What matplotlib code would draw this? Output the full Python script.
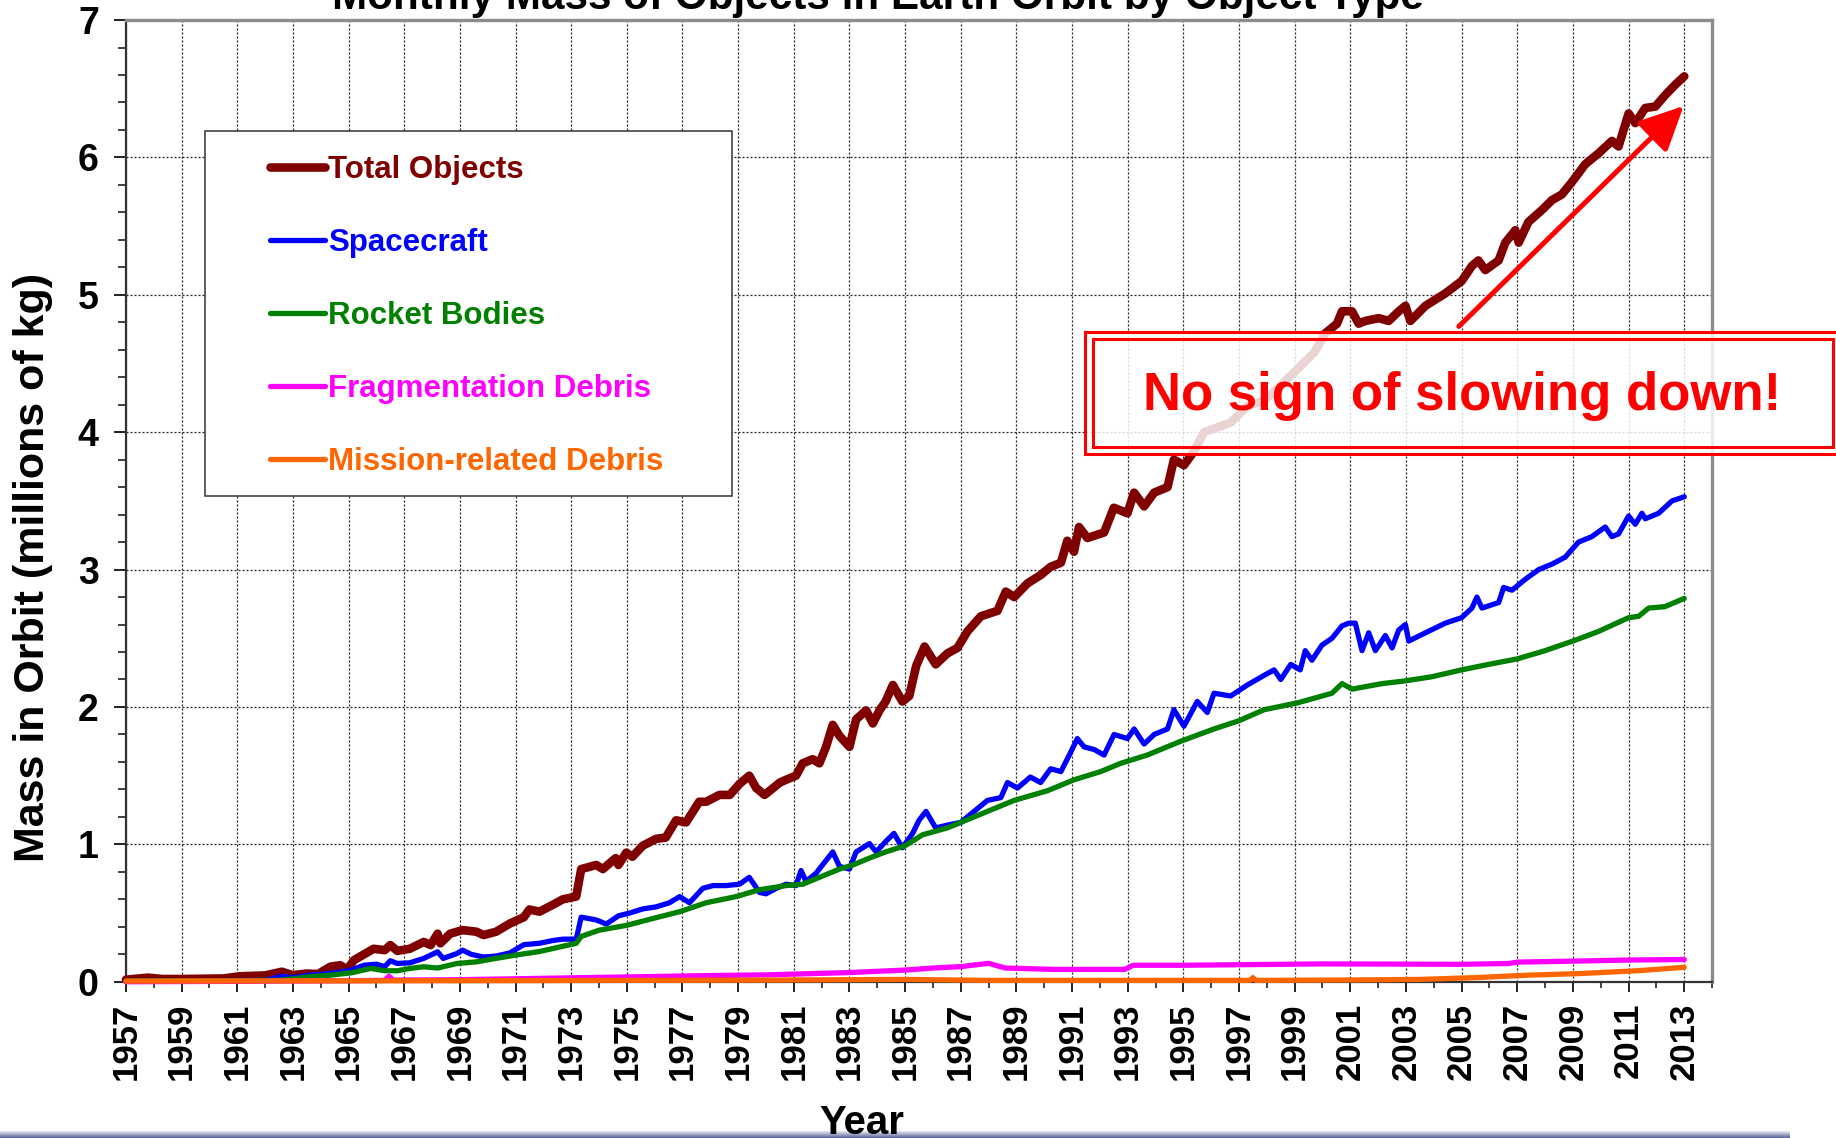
import matplotlib
matplotlib.use("Agg")
import matplotlib.pyplot as plt
from matplotlib.patches import Rectangle
from matplotlib.colors import LinearSegmentedColormap
from matplotlib.ticker import MultipleLocator
import numpy as np

plt.rcParams.update({
    "font.family": ["Liberation Sans", "DejaVu Sans"],
    "font.weight": "bold",
    "axes.labelweight": "bold",
})

# ---------------------------------------------------------------------
# Data (year, millions of kg)
# ---------------------------------------------------------------------
total_years = [1957.0, 1957.8, 1958.3, 1959.0, 1960.5, 1961.1, 1962.0, 1962.6, 1963.0, 1963.5,
               1963.9, 1964.35, 1964.7, 1964.95, 1965.2, 1965.9, 1966.3, 1966.5, 1966.75, 1967.2,
               1967.7, 1967.95, 1968.2, 1968.3, 1968.65, 1969.1, 1969.6, 1969.85, 1970.3, 1970.8,
               1971.3, 1971.5, 1971.86, 1972.34, 1972.7, 1973.18, 1973.36, 1973.9, 1974.14, 1974.6,
               1974.7, 1974.98, 1975.2, 1975.57, 1976.05, 1976.4, 1976.77, 1977.13, 1977.6, 1977.85,
               1978.33, 1978.7, 1979.05, 1979.4, 1979.65, 1979.95, 1980.5, 1980.72, 1981.08, 1981.32,
               1981.68, 1981.92, 1982.16, 1982.4, 1982.64, 1983.0, 1983.24, 1983.6, 1983.84, 1984.08,
               1984.3, 1984.56, 1984.9, 1985.15, 1985.4, 1985.7, 1986.1, 1986.52, 1986.88, 1987.24,
               1987.72, 1988.32, 1988.62, 1988.92, 1989.4, 1989.87, 1990.23, 1990.6, 1990.83, 1991.07,
               1991.25, 1991.55, 1992.15, 1992.5, 1992.99, 1993.23, 1993.59, 1993.95, 1994.43, 1994.66,
               1995.02, 1995.38, 1995.74, 1996.7, 1997.3, 1997.9, 1998.5, 1999.1, 1999.7, 2000.1,
               2000.52, 2000.7, 2001.06, 2001.3, 2001.54, 2002.02, 2002.38, 2002.74, 2002.98, 2003.16,
               2003.7, 2004.41, 2005.0, 2005.37, 2005.6, 2005.85, 2006.33, 2006.57, 2006.93, 2007.05,
               2007.4, 2007.9, 2008.25, 2008.6, 2008.96, 2009.44, 2009.92, 2010.4, 2010.64, 2011.0,
               2011.24, 2011.6, 2011.96, 2012.3, 2012.68, 2013.0]
total_mass = [0.015, 0.03, 0.02, 0.02, 0.024, 0.04, 0.046, 0.073, 0.048, 0.06,
              0.056, 0.11, 0.12, 0.09, 0.158, 0.24, 0.23, 0.267, 0.225, 0.24,
              0.29, 0.267, 0.35, 0.28, 0.35, 0.376, 0.364, 0.34, 0.364, 0.424,
              0.47, 0.526, 0.51, 0.56, 0.6, 0.62, 0.82, 0.85, 0.82, 0.9,
              0.85, 0.94, 0.91, 0.99, 1.04, 1.05, 1.175, 1.16, 1.31, 1.31,
              1.36, 1.36, 1.44, 1.5, 1.41, 1.36, 1.45, 1.47, 1.5, 1.59,
              1.62, 1.59, 1.71, 1.87, 1.79, 1.71, 1.91, 1.975, 1.88, 1.975,
              2.04, 2.16, 2.04, 2.08, 2.3, 2.44, 2.31, 2.39, 2.43, 2.55,
              2.66, 2.70, 2.84, 2.80, 2.90, 2.96, 3.02, 3.05, 3.21, 3.13,
              3.31, 3.23, 3.27, 3.45, 3.41, 3.56, 3.46, 3.56, 3.60, 3.80,
              3.76, 3.86, 4.0, 4.07, 4.19, 4.23, 4.34, 4.46, 4.58, 4.72,
              4.79, 4.88, 4.88, 4.79, 4.81, 4.83, 4.81, 4.88, 4.92, 4.81,
              4.92, 5.01, 5.10, 5.21, 5.25, 5.18, 5.25, 5.38, 5.47, 5.38,
              5.53, 5.62, 5.69, 5.73, 5.82, 5.95, 6.03, 6.12, 6.08, 6.32,
              6.25, 6.36, 6.37, 6.45, 6.53, 6.59]

spacecraft_years = [1957.0, 1962.0, 1962.6, 1963.0, 1963.6, 1964.35, 1965.1, 1965.55, 1966.0, 1966.3,
                    1966.5, 1966.75, 1967.2, 1967.7, 1968.2, 1968.4, 1968.9, 1969.1, 1969.4, 1969.85,
                    1970.3, 1970.8, 1971.3, 1971.86, 1972.34, 1972.7, 1973.18, 1973.36, 1973.9, 1974.26,
                    1974.7, 1975.1, 1975.57, 1976.05, 1976.53, 1976.9, 1977.25, 1977.73, 1978.1, 1978.57,
                    1979.05, 1979.4, 1979.77, 1980.0, 1980.37, 1980.72, 1981.08, 1981.26, 1981.44, 1981.8,
                    1982.4, 1982.64, 1983.0, 1983.24, 1983.72, 1983.96, 1984.3, 1984.6, 1984.9, 1985.27,
                    1985.5, 1985.75, 1986.1, 1986.52, 1987.0, 1987.48, 1987.96, 1988.44, 1988.68, 1989.04,
                    1989.5, 1989.87, 1990.23, 1990.6, 1990.9, 1991.19, 1991.43, 1991.8, 1992.15, 1992.51,
                    1992.99, 1993.23, 1993.59, 1993.95, 1994.43, 1994.66, 1995.02, 1995.5, 1995.86, 1996.1,
                    1996.7, 1997.3, 1997.9, 1998.26, 1998.5, 1998.86, 1999.2, 1999.38, 1999.62, 1999.98,
                    2000.34, 2000.7, 2000.94, 2001.18, 2001.42, 2001.66, 2001.9, 2002.26, 2002.5, 2002.74,
                    2002.98, 2003.1, 2003.7, 2004.41, 2005.0, 2005.37, 2005.55, 2005.73, 2006.33, 2006.51,
                    2006.81, 2007.29, 2007.77, 2008.25, 2008.72, 2009.2, 2009.68, 2010.16, 2010.4, 2010.64,
                    2011.0, 2011.24, 2011.48, 2011.6, 2012.08, 2012.56, 2013.0]
spacecraft_mass = [0.005, 0.01, 0.04, 0.03, 0.048, 0.06, 0.085, 0.12, 0.128, 0.11,
                   0.153, 0.133, 0.138, 0.17, 0.218, 0.17, 0.206, 0.23, 0.2, 0.18,
                   0.187, 0.21, 0.27, 0.28, 0.30, 0.31, 0.31, 0.47, 0.45, 0.42,
                   0.48, 0.5, 0.53, 0.545, 0.575, 0.62, 0.575, 0.68, 0.7, 0.7,
                   0.71, 0.76, 0.65, 0.64, 0.68, 0.71, 0.7, 0.81, 0.73, 0.79,
                   0.945, 0.84, 0.82, 0.945, 1.006, 0.945, 1.02, 1.08, 0.975, 1.08,
                   1.175, 1.24, 1.12, 1.14, 1.16, 1.24, 1.32, 1.34, 1.45, 1.41,
                   1.49, 1.45, 1.55, 1.53, 1.65, 1.77, 1.71, 1.69, 1.65, 1.80,
                   1.77, 1.84, 1.73, 1.80, 1.84, 1.98, 1.86, 2.04, 1.96, 2.10,
                   2.08, 2.16, 2.23, 2.27, 2.20, 2.31, 2.27, 2.41, 2.34, 2.45,
                   2.50, 2.59, 2.61, 2.61, 2.41, 2.54, 2.41, 2.52, 2.43, 2.56,
                   2.60, 2.48, 2.54, 2.61, 2.65, 2.72, 2.80, 2.72, 2.76, 2.87,
                   2.85, 2.93, 3.0, 3.04, 3.09, 3.20, 3.24, 3.31, 3.24, 3.26,
                   3.39, 3.33, 3.41, 3.37, 3.41, 3.50, 3.53]

rocket_years = [1957.0, 1962.5, 1963.6, 1964.35, 1965.1, 1965.8, 1966.3, 1966.75, 1967.2, 1967.7,
                1968.2, 1968.9, 1969.6, 1970.3, 1971.0, 1971.86, 1973.18, 1973.36, 1974.0, 1974.98,
                1975.93, 1976.9, 1977.85, 1978.93, 1979.77, 1980.72, 1981.32, 1981.92, 1982.64, 1983.12,
                1983.72, 1984.3, 1985.0, 1985.63, 1986.52, 1987.24, 1987.96, 1988.92, 1990.11, 1991.07,
                1992.03, 1992.75, 1993.7, 1994.9, 1996.1, 1997.0, 1997.9, 1999.1, 2000.34, 2000.7,
                2001.06, 2002.14, 2002.98, 2003.93, 2005.0, 2005.97, 2007.0, 2008.0, 2009.0, 2009.92,
                2011.0, 2011.36, 2011.72, 2012.3, 2013.0]
rocket_mass = [0.005, 0.01, 0.036, 0.048, 0.065, 0.097, 0.08, 0.08, 0.097, 0.109,
               0.1, 0.133, 0.145, 0.17, 0.194, 0.22, 0.28, 0.33, 0.375, 0.41,
               0.46, 0.51, 0.575, 0.62, 0.67, 0.7, 0.71, 0.76, 0.82, 0.85,
               0.9, 0.945, 0.99, 1.07, 1.12, 1.18, 1.24, 1.32, 1.39, 1.47,
               1.53, 1.59, 1.65, 1.75, 1.84, 1.90, 1.98, 2.03, 2.10, 2.17,
               2.13, 2.17, 2.19, 2.22, 2.27, 2.31, 2.35, 2.41, 2.48, 2.55,
               2.65, 2.66, 2.72, 2.73, 2.79]

frag_years = [1957.0, 1961.0, 1965.0, 1966.3, 1966.45, 1966.6, 1969.0, 1972.0, 1975.0, 1978.0,
              1980.0, 1983.0, 1985.0, 1986.0, 1987.0, 1988.0, 1988.6, 1990.35, 1992.9, 1993.2,
              1995.0, 2000.0, 2005.0, 2006.7, 2007.0, 2009.0, 2011.0, 2013.0]
frag_mass = [0.0, 0.003, 0.008, 0.01, 0.04, 0.012, 0.015, 0.025, 0.035, 0.045,
             0.05, 0.067, 0.085, 0.10, 0.11, 0.134, 0.10, 0.09, 0.09, 0.12,
             0.12, 0.13, 0.127, 0.133, 0.143, 0.15, 0.158, 0.162]

mission_years = [1957.0, 1970.0, 1980.0, 1985.0, 1988.0, 1996.0, 1997.4, 1997.5, 1997.6, 2001.0,
                 2003.5, 2005.5, 2007.4, 2009.3, 2011.3, 2013.0]
mission_mass = [0.005, 0.008, 0.012, 0.017, 0.01, 0.01, 0.01, 0.03, 0.01, 0.013,
                0.017, 0.03, 0.048, 0.06, 0.08, 0.105]

series = [
    ("Total Objects", total_years, total_mass, "#800000", 6.2),
    ("Spacecraft", spacecraft_years, spacecraft_mass, "#0000FF", 3.8),
    ("Rocket Bodies", rocket_years, rocket_mass, "#008000", 3.8),
    ("Fragmentation Debris", frag_years, frag_mass, "#FF00FF", 3.8),
    ("Mission-related Debris", mission_years, mission_mass, "#FF6600", 3.8),
]

year_ticks = list(range(1957, 2014, 2))

# ---------------------------------------------------------------------
fig = plt.figure(figsize=(18.36, 11.38), dpi=100)
ax = fig.add_axes([0.0686, 0.1373, 0.8639, 0.8451])

for label, xs, ys, color, lw in series:
    ax.plot(xs, ys, color=color, lw=lw, label=label, clip_on=False,
            solid_joinstyle="round", solid_capstyle="round", zorder=4)

ax.set_xlim(1957, 2014)
ax.set_ylim(0, 7)
ax.set_xticks(year_ticks)
ax.set_xticklabels([str(y) for y in year_ticks], rotation=90)
ax.xaxis.set_minor_locator(MultipleLocator(1))
ax.yaxis.set_major_locator(MultipleLocator(1))
ax.yaxis.set_minor_locator(MultipleLocator(0.2))

ax.tick_params(axis="x", which="major", length=7, width=1.4, labelsize=25, pad=8,
               color="#222222")
ax.tick_params(axis="x", which="minor", length=4.5, width=1.2, color="#222222")
ax.tick_params(axis="y", which="major", length=8.5, width=1.4, labelsize=27, pad=11,
               color="#222222")
ax.tick_params(axis="y", which="minor", length=6, width=1.2, color="#222222")
for t in ax.get_xticklabels() + ax.get_yticklabels():
    t.set_fontweight("bold")

ax.set_axisbelow(True)
ax.grid(which="major", color="#222222", linestyle=(0, (1.6, 1.6)), linewidth=0.9)

for side in ["left", "bottom"]:
    ax.spines[side].set_color("#333333")
    ax.spines[side].set_linewidth(1.6)
for side in ["top", "right"]:
    ax.spines[side].set_color("#8c8c8c")
    ax.spines[side].set_linewidth(2.4)

# legend with its own box
ax.add_patch(Rectangle((0.050, 0.505), 0.332, 0.380, transform=ax.transAxes,
                       facecolor="white", edgecolor="#333333", lw=1.1, zorder=5))
leg = ax.legend(loc="upper left", bbox_to_anchor=(0.0908, 0.860), frameon=False,
                fontsize=22.5, handlelength=1.75, handletextpad=0.1,
                labelspacing=1.38, borderpad=0, borderaxespad=0,
                labelcolor="linecolor")
leg.set_zorder(6)
for h in leg.get_lines():
    h.set_solid_capstyle("round")

# arrow
ax.annotate("", xy=(2012.98, 6.375), xytext=(2004.9, 4.77),
            arrowprops=dict(arrowstyle="-|>,head_length=2.7,head_width=1.3",
                            mutation_scale=10, lw=3.6, color="#FF0000",
                            shrinkA=0, shrinkB=0),
            zorder=7)

# figure-level texts
fig.text(0.4782, 0.992, "Monthly Mass of Objects in Earth Orbit by Object Type",
         ha="center", va="baseline", fontsize=30.4, fontweight="bold")
fig.text(0.4695, 0.0035, "Year", ha="center", va="baseline",
         fontsize=29, fontweight="bold")
fig.text(0.018, 0.501, "Mass in Orbit (millions of kg)", rotation=90,
         ha="center", va="center", fontsize=31, fontweight="bold")

# callout box
fig.patches.append(Rectangle((0.591, 0.601), 0.42, 0.1073, transform=fig.transFigure,
                             facecolor=(1, 1, 1, 0.83), edgecolor="#FF0000",
                             lw=2.2, zorder=10, figure=fig))
fig.patches.append(Rectangle((0.5953, 0.6072), 0.4031, 0.0949, transform=fig.transFigure,
                             facecolor="none", edgecolor="#FF0000",
                             lw=2.2, zorder=11, figure=fig))
fig.text(0.7963, 0.6397, "No sign of slowing down!", ha="center", va="baseline",
         fontsize=38, fontweight="bold", color="#FF0000", zorder=12)

# slide footer bar
bar_ax = fig.add_axes([0, 0, 1790 / 1836, 7 / 1138])
bar_cmap = LinearSegmentedColormap.from_list("bar", ["#e6e8f2", "#5a6498"])
bar_ax.imshow(np.linspace(0, 1, 16).reshape(-1, 1), aspect="auto", cmap=bar_cmap)
bar_ax.axis("off")

fig.savefig("out.png", dpi=100)
